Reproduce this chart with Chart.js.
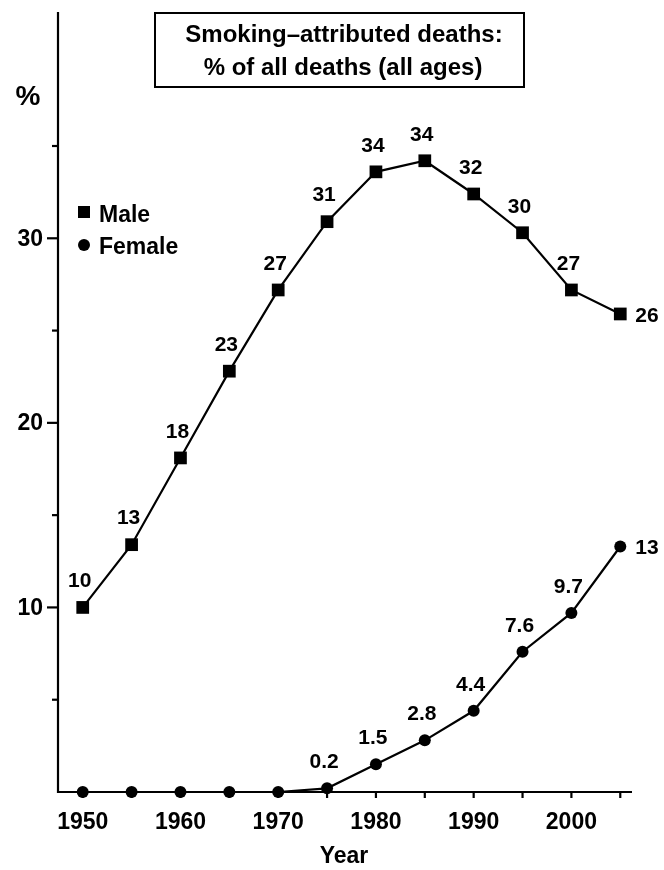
<!DOCTYPE html>
<html>
<head>
<meta charset="utf-8">
<script src="https://cdn.jsdelivr.net/npm/chart.js@4.4.1/dist/chart.umd.min.js"></script>
<style>
  html, body { margin: 0; padding: 0; background: #fff; }
  #wrap { width: 664px; height: 870px; }
</style>
</head>
<body>
<div id="wrap"><canvas id="chart" width="664" height="870"></canvas></div>
<script>
// Data
const years = [1950, 1955, 1960, 1965, 1970, 1975, 1980, 1985, 1990, 1995, 2000, 2005];
const maleValues = [10.0, 13.4, 18.1, 22.8, 27.2, 30.9, 33.6, 34.2, 32.4, 30.3, 27.2, 25.9];
const femaleValues = [0, 0, 0, 0, 0, 0.2, 1.5, 2.8, 4.4, 7.6, 9.7, 13.3];
const maleLabels = ['10', '13', '18', '23', '27', '31', '34', '34', '32', '30', '27', '26'];
const femaleLabels = ['', '', '', '', '', '0.2', '1.5', '2.8', '4.4', '7.6', '9.7', '13'];
const yTickValues = [5, 10, 15, 20, 25, 30, 35];
const yTickLabels = ['', '10', '', '20', '', '30', ''];
const xTickValues = [1950, 1955, 1960, 1965, 1970, 1975, 1980, 1985, 1990, 1995, 2000, 2005];
const xTickLabels = ['1950', '', '1960', '', '1970', '', '1980', '', '1990', '', '2000', ''];
const titleLines = ['Smoking\u2013attributed deaths:', '% of all deaths (all ages)'];
const seriesNames = ['Male', 'Female'];

const FONT = '"Liberation Sans", Arial, Helvetica, sans-serif';

// axes, ticks, title box, legend and value labels
const decorPlugin = {
    id: 'decor',
    afterDraw(chart) {
        const ctx = chart.ctx;
        const area = chart.chartArea;
        const xs = chart.scales.x;
        const ys = chart.scales.y;
        ctx.save();
        ctx.strokeStyle = '#000';
        ctx.fillStyle = '#000';

        // axis lines
        ctx.lineWidth = 2.2;
        ctx.beginPath();
        ctx.moveTo(area.left, area.top);
        ctx.lineTo(area.left, area.bottom);
        ctx.lineTo(area.right, area.bottom);
        ctx.stroke();

        // y ticks
        ctx.font = 'bold 23px ' + FONT;
        ctx.textAlign = 'right';
        ctx.textBaseline = 'middle';
        yTickValues.forEach((v, i) => {
            const y = ys.getPixelForValue(v);
            const len = yTickLabels[i] ? 11 : 6;
            ctx.beginPath();
            ctx.moveTo(area.left - len, y);
            ctx.lineTo(area.left, y);
            ctx.stroke();
            if (yTickLabels[i]) ctx.fillText(yTickLabels[i], area.left - 15, y + 1);
        });

        // x ticks
        ctx.textAlign = 'center';
        ctx.textBaseline = 'middle';
        xTickValues.forEach((v, i) => {
            const x = xs.getPixelForValue(v);
            ctx.beginPath();
            ctx.moveTo(x, area.bottom);
            ctx.lineTo(x, area.bottom + 6);
            ctx.stroke();
            if (xTickLabels[i]) ctx.fillText(xTickLabels[i], x, 823);
        });

        // axis titles
        ctx.fillText('Year', 344, 857);
        ctx.font = 'bold 28px ' + FONT;
        ctx.fillText('%', 28, 97);

        // title box
        ctx.lineWidth = 2;
        ctx.strokeRect(155, 13, 369, 74);
        ctx.font = 'bold 24px ' + FONT;
        ctx.fillText(titleLines[0], 344, 35);
        ctx.fillText(titleLines[1], 343, 68);

        // legend
        ctx.fillRect(78, 206, 12, 12);
        ctx.beginPath();
        ctx.arc(84, 245, 6, 0, Math.PI * 2);
        ctx.fill();
        ctx.font = 'bold 23px ' + FONT;
        ctx.textAlign = 'left';
        ctx.fillText(seriesNames[0], 99, 216);
        ctx.fillText(seriesNames[1], 99, 248);

        // value labels
        ctx.font = 'bold 21px ' + FONT;
        [maleLabels, femaleLabels].forEach((labels, di) => {
            const meta = chart.getDatasetMeta(di);
            meta.data.forEach((pt, i) => {
                const txt = labels[i];
                if (!txt) return;
                if (i === labels.length - 1) {
                    ctx.textAlign = 'left';
                    ctx.fillText(txt, pt.x + 15, pt.y + 2);
                } else {
                    ctx.textAlign = 'center';
                    ctx.fillText(txt, pt.x - 3, pt.y - 26);
                }
            });
        });
        ctx.restore();
    }
};

new Chart(document.getElementById('chart'), {
    type: 'line',
    data: {
        datasets: [
            {
                label: seriesNames[0],
                data: years.map((y, i) => ({ x: y, y: maleValues[i] })),
                borderColor: '#000',
                backgroundColor: '#000',
                borderWidth: 2.2,
                pointStyle: 'rect',
                pointRadius: 9,
                pointBorderWidth: 0,
                tension: 0,
                clip: false
            },
            {
                label: seriesNames[1],
                data: years.map((y, i) => ({ x: y, y: femaleValues[i] })),
                borderColor: '#000',
                backgroundColor: '#000',
                borderWidth: 2.2,
                pointStyle: 'circle',
                pointRadius: 6,
                pointBorderWidth: 0,
                tension: 0,
                clip: false
            }
        ]
    },
    options: {
        responsive: false,
        animation: false,
        devicePixelRatio: 1,
        layout: { padding: { left: 58, right: 32, top: 12, bottom: 78 } },
        plugins: {
            legend: { display: false },
            tooltip: { enabled: false }
        },
        scales: {
            x: { type: 'linear', min: 1947.47, max: 2006.2, display: false },
            y: { type: 'linear', min: 0, max: 42.26, display: false }
        },
        elements: { point: { hoverRadius: 6 } }
    },
    plugins: [decorPlugin]
});
</script>
</body>
</html>
